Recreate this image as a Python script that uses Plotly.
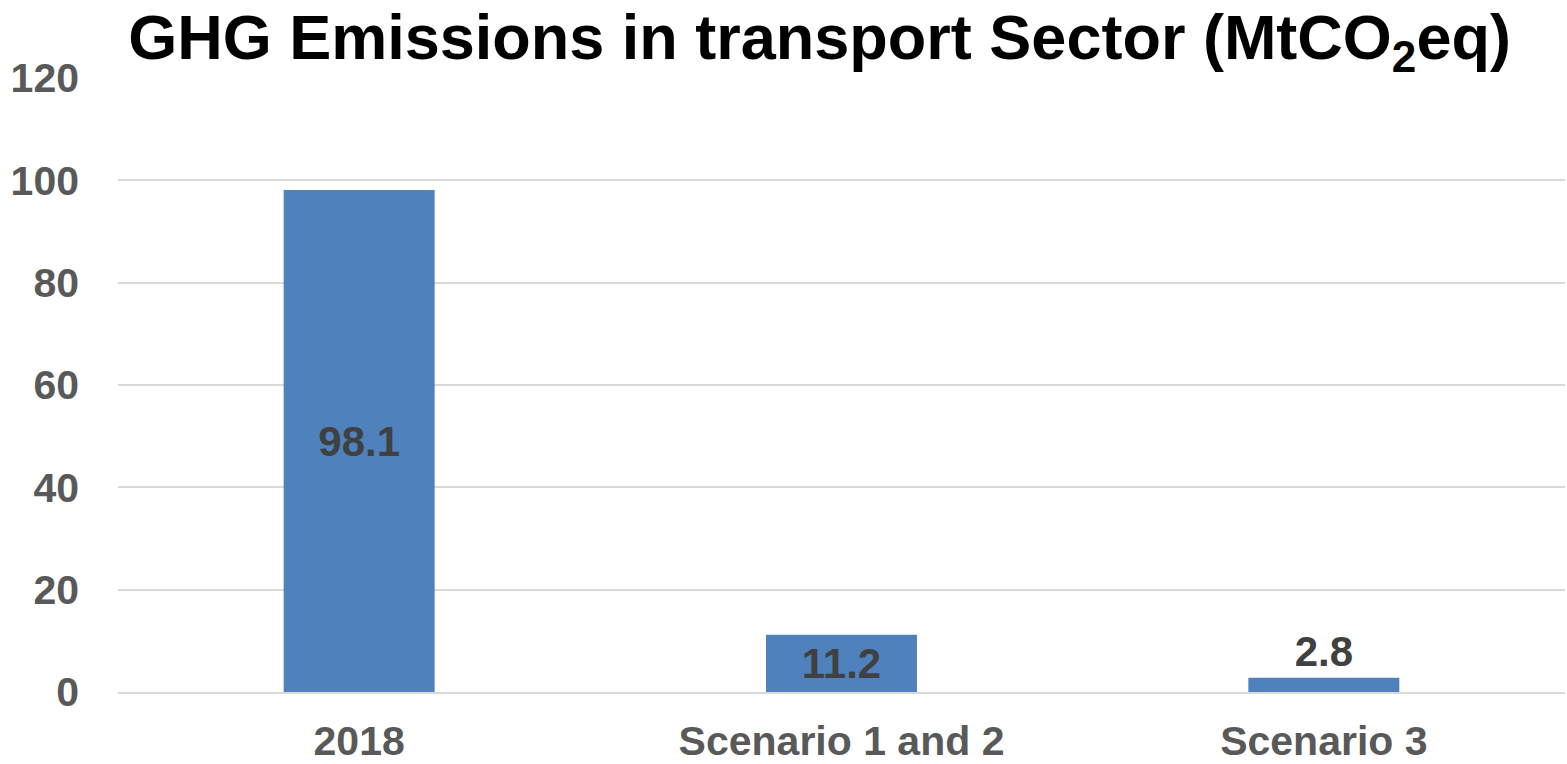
import plotly.graph_objects as go

categories = ["2018", "Scenario 1 and 2", "Scenario 3"]
values = [98.1, 11.2, 2.8]
label_positions = ["inside", "inside", "outside"]
y_ticks = [0, 20, 40, 60, 80, 100, 120]

FONT = "Liberation Sans, Arial, sans-serif"

fig = go.Figure(
    go.Bar(
        x=categories,
        y=values,
        text=[f"{v:.1f}" for v in values],
        textposition=label_positions,
        insidetextanchor="middle",
        constraintext="none",
        cliponaxis=False,
        textfont=dict(family=FONT, size=42, color="#404040", weight="bold"),
        marker=dict(color="#4F81BD", line=dict(width=0)),
    )
)

fig.update_layout(
    width=1567,
    height=764,
    margin=dict(l=118, r=2, t=78, b=72),
    paper_bgcolor="white",
    plot_bgcolor="white",
    bargap=0.687,
    showlegend=False,
    title=dict(
        text="GHG Emissions in transport Sector (MtCO<sub>2</sub>eq)",
        font=dict(family=FONT, size=63, color="black", weight="bold"),
        x=0.523, xref="container", xanchor="center",
        y=0.952, yref="container", yanchor="middle",
    ),
    yaxis=dict(
        range=[0, 120],
        tickvals=y_ticks,
        showgrid=True,
        gridcolor="#D9D9D9",
        gridwidth=2,
        zeroline=False,
        showline=False,
        automargin=False,
        tickfont=dict(family=FONT, size=41, color="#595959", weight="bold"),
        ticklabelstandoff=38,
    ),
    xaxis=dict(
        showline=True,
        linecolor="#D9D9D9",
        linewidth=2,
        automargin=False,
        tickfont=dict(family=FONT, size=41, color="#595959", weight="bold"),
        ticklabelstandoff=12,
    ),
)

fig.write_html("out.html")
